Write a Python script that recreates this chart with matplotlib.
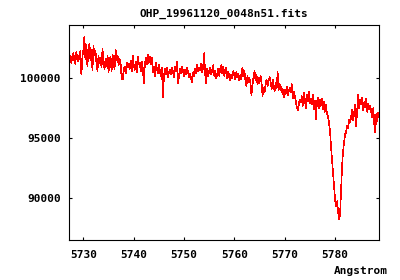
import numpy as np
import matplotlib
matplotlib.use("Agg")
import matplotlib.pyplot as plt

title = "OHP_19961120_0048n51.fits"
xlabel = "Angstrom"
wave_start = 5727.2
wave_step = 0.2
flux = [
    101600, 101900, 101300, 101800, 102100, 101500, 101200, 102200, 101700, 101400,
    101900, 102300, 100300, 101800, 102400, 103500, 101600, 102800, 101000, 102600,
    102900, 101500, 102400, 100700, 102700, 101900, 102300, 101200, 100600, 101900,
    101300, 101700, 100900, 102500, 101200, 100800, 101600, 101000, 101900, 100500,
    101400, 101800, 100600, 102000, 101200, 100800, 102400, 101500, 101900, 101100,
    101600, 101200, 100000, 99900, 100700, 101000, 100400, 101300, 100900, 101200,
    100800, 101500, 100600, 101900, 101100, 100700, 101400, 100500, 101800, 101200,
    101300, 100600, 101400, 100900, 99600, 101000, 101700, 101200, 102000, 101300,
    101800, 101200, 101700, 100500, 101000, 100200, 101300, 100800, 100400, 101100,
    100600, 100200, 100900, 98400, 100100, 100800, 100300, 100900, 100100, 100500,
    100700, 100300, 100900, 100500, 100100, 101000, 100600, 101400, 99600, 100200,
    100800, 100400, 101000, 100600, 100200, 100700, 100300, 100900, 100500, 100100,
    100400, 100000, 99700, 100500, 100200, 100800, 100400, 101100, 100600, 100900,
    100700, 101200, 100500, 101000, 102100, 100300, 99600, 100800, 100200, 100600,
    100900, 100300, 100700, 101100, 100200, 100600, 100000, 100400, 100800, 100200,
    100800, 101100, 100400, 101000, 100200, 100700, 100900, 100000, 100500, 100100,
    99800, 100300, 100000, 100600, 100200, 99900, 100500, 100100, 100400, 99800,
    100300, 99900, 100900, 100200, 100600, 99800, 99300, 100200, 99700, 100000,
    99600, 98600, 99400, 100100, 100600, 99800, 100300, 99500, 100000, 99600,
    100200, 99700, 98500, 99200, 98800, 99500, 99900, 99300, 99800, 100100,
    99700, 99100, 99900, 99400, 98900, 99600, 99200, 100500, 99000, 99500,
    99300, 98800, 99100, 98400, 99000, 98700, 99300, 98600, 98900, 99200,
    98800, 99500, 98300, 98900, 98500, 98100, 97600, 97300, 97800, 98200,
    98000, 98500, 97700, 98800, 98200, 97500, 98600, 98100, 98900, 97900,
    98300, 97800, 98600, 97400, 98100, 96600, 97900, 98400, 97500, 98200,
    97700, 98300, 97400, 98000, 97200, 97800, 97000, 96800, 96300, 95600,
    94300, 93200, 92000, 91100, 89900, 89300, 89700, 88900, 88200, 88600,
    90700, 92600, 93900, 94600, 95300, 95500, 96000, 95800, 96500, 96300,
    96800, 97400, 96500, 97100, 97800, 96000, 97300, 98600, 97500, 98200,
    97800, 98400, 97300, 98000, 97600, 98300, 97200, 97900, 97400, 97700,
    97200, 96700, 97500, 96200, 95500, 97000, 96400, 97100, 96800,
]
xticks = [5730, 5740, 5750, 5760, 5770, 5780]
yticks = [90000, 95000, 100000]
xlim = (5727.2, 5788.8)
ylim = (86460, 104460)

wave = wave_start + wave_step * np.arange(len(flux))

font = {"family": "DejaVu Sans Mono", "weight": "bold", "size": 8}

fig = plt.figure(figsize=(4, 2.8), dpi=100)
ax = fig.add_axes([69.3 / 400, 40 / 280, 310 / 400, 215 / 280])
ax.plot(wave, flux, color="#ff0000", lw=0.45, antialiased=False)
ax.set_xlim(*xlim)
ax.set_ylim(*ylim)
ax.set_xticks(xticks)
ax.set_yticks(yticks)
ax.set_xticklabels([str(t) for t in xticks], fontdict=font)
ax.set_yticklabels([str(t) for t in yticks], fontdict=font)
ax.tick_params(direction="in", length=2.5, width=0.8, top=True, right=True,
               pad=6, colors="black")
ax.tick_params(axis="x", pad=7)
for s in ax.spines.values():
    s.set_linewidth(0.8)
    s.set_color("black")
fig.text(224 / 400, 1 - 14 / 280, title, ha="center", va="center", **font)
fig.text(388 / 400, 1 - 271 / 280, xlabel, ha="right", va="center", **font)
fig.savefig("out.png", dpi=100)
